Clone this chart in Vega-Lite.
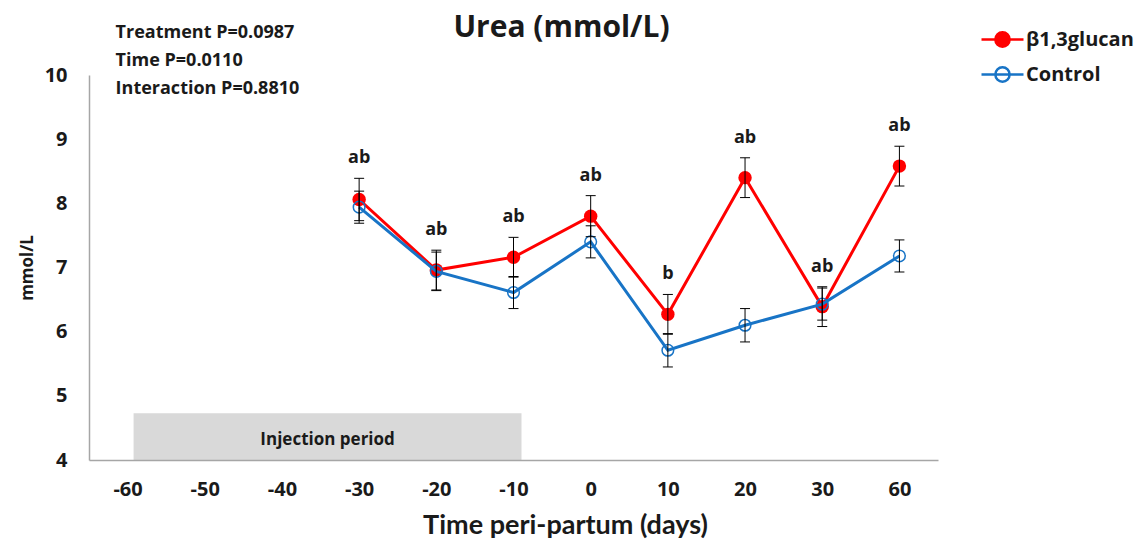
{
  "$schema": "https://vega.github.io/schema/vega-lite/v6.json",
  "width": 849,
  "height": 385,
  "autosize": {"type": "none"},
  "padding": {"left": 89, "top": 75, "right": 200, "bottom": 97},
  "background": "white",
  "config": {
    "view": {"stroke": null},
    "font": "Open Sans",
    "axis": {"grid": false, "ticks": false, "tickSize": 0, "domainColor": "#A6A6A6", "domainWidth": 1.5, "labelFont": "Open Sans", "labelFontWeight": "bold", "labelColor": "#1a1a1a", "titleFont": "Open Sans", "titleFontWeight": "bold", "titleColor": "#1a1a1a"}
  },
  "title": {"text": "Urea (mmol/L)", "anchor": "middle", "frame": "group", "dx": 48, "offset": -26, "font": "Open Sans", "fontSize": 30, "fontWeight": "bold", "color": "#1a1a1a"},
  "data": {"values": [
    {"day": -30, "group": "β1,3glucan", "mean": 8.06, "lo": 7.73, "hi": 8.39, "sig": "ab"},
    {"day": -20, "group": "β1,3glucan", "mean": 6.96, "lo": 6.65, "hi": 7.27, "sig": "ab"},
    {"day": -10, "group": "β1,3glucan", "mean": 7.16, "lo": 6.85, "hi": 7.47, "sig": "ab"},
    {"day": 0, "group": "β1,3glucan", "mean": 7.80, "lo": 7.48, "hi": 8.12, "sig": "ab"},
    {"day": 10, "group": "β1,3glucan", "mean": 6.27, "lo": 5.96, "hi": 6.58, "sig": "b"},
    {"day": 20, "group": "β1,3glucan", "mean": 8.40, "lo": 8.09, "hi": 8.71, "sig": "ab"},
    {"day": 30, "group": "β1,3glucan", "mean": 6.39, "lo": 6.08, "hi": 6.70, "sig": "ab"},
    {"day": 60, "group": "β1,3glucan", "mean": 8.58, "lo": 8.27, "hi": 8.89, "sig": "ab"},
    {"day": -30, "group": "Control", "mean": 7.94, "lo": 7.69, "hi": 8.19},
    {"day": -20, "group": "Control", "mean": 6.94, "lo": 6.64, "hi": 7.24},
    {"day": -10, "group": "Control", "mean": 6.61, "lo": 6.36, "hi": 6.86},
    {"day": 0, "group": "Control", "mean": 7.40, "lo": 7.15, "hi": 7.65},
    {"day": 10, "group": "Control", "mean": 5.71, "lo": 5.45, "hi": 5.97},
    {"day": 20, "group": "Control", "mean": 6.10, "lo": 5.84, "hi": 6.36},
    {"day": 30, "group": "Control", "mean": 6.43, "lo": 6.18, "hi": 6.68},
    {"day": 60, "group": "Control", "mean": 7.18, "lo": 6.93, "hi": 7.43}
  ]},
  "encoding": {
    "x": {"field": "day", "type": "ordinal", "sort": null,
      "scale": {"type": "point", "domain": [-60, -50, -40, -30, -20, -10, 0, 10, 20, 30, 60], "padding": 0.5},
      "axis": {"title": "Time peri-partum (days)", "labelAngle": 0, "labelFontSize": 20, "labelPadding": 19, "titleFont": "Lato", "titleFontSize": 27, "titlePadding": 13, "titleX": 476}},
    "y": {"field": "mean", "type": "quantitative",
      "scale": {"domain": [4, 10], "nice": false, "zero": false},
      "axis": {"title": "mmol/L", "values": [4, 5, 6, 7, 8, 9, 10], "labelFontSize": 20, "labelPadding": 22, "titleFontSize": 17, "titlePadding": 8}}
  },
  "layer": [
    {
      "data": {"values": [{"day": -60, "day_end": -10, "ylo": 4, "yhi": 4.73, "label": "Injection period"}]},
      "mark": {"type": "rect", "color": "#D9D9D9", "xOffset": 6, "x2Offset": 8},
      "encoding": {
        "x2": {"field": "day_end"},
        "y": {"field": "ylo", "type": "quantitative", "title": "mmol/L"},
        "y2": {"field": "yhi"}
      }
    },
    {
      "data": {"values": [{"day": -60, "day_end": -10, "ylo": 4, "yhi": 4.73, "label": "Injection period"}]},
      "mark": {"type": "text", "font": "Open Sans", "fontSize": 17, "fontWeight": "bold", "color": "#1a1a1a", "dx": 200, "dy": -20, "baseline": "middle"},
      "encoding": {
        "y": {"field": "ylo", "type": "quantitative", "title": "mmol/L"},
        "text": {"field": "label"}
      }
    },
    {
      "data": {"values": [{"day": -60, "ytop": 10, "note": "stats"}]},
      "mark": {"type": "text", "font": "Open Sans", "fontSize": 18, "fontWeight": "bold", "color": "#1a1a1a", "align": "left", "baseline": "top", "dx": -12, "dy": -51, "lineHeight": 28,
        "text": ["Treatment P=0.0987", "Time P=0.0110", "Interaction P=0.8810"]},
      "encoding": {"y": {"field": "ytop", "type": "quantitative", "title": "mmol/L"}}
    },
    {
      "transform": [{"filter": "datum.group === 'β1,3glucan'"}],
      "mark": {"type": "line", "strokeWidth": 3},
      "encoding": {
        "color": {"field": "group", "type": "nominal",
          "scale": {"domain": ["β1,3glucan", "Control"], "range": ["#FF0000", "#1874C6"]},
          "legend": {"orient": "none", "legendX": 891, "legendY": -58, "title": null, "padding": 0,
            "symbolType": "M-1,0L1,0M-0.34,0A0.34,0.34,0,1,1,0.34,0A0.34,0.34,0,1,1,-0.34,0Z",
            "symbolSize": 1764, "symbolStrokeWidth": 2.5, "rowPadding": 0, "labelOffset": 1,
            "labelFont": "Open Sans", "labelFontSize": 20, "labelFontWeight": "bold", "labelColor": "#1a1a1a",
            "encode": {"symbols": {"update": {
              "fill": [{"test": "datum.value === 'Control'", "value": "transparent"}, {"value": "#FF0000"}],
              "fillOpacity": {"value": 1},
              "stroke": [{"test": "datum.value === 'Control'", "value": "#1874C6"}, {"value": "#FF0000"}]
            }}}}
        }
      }
    },
    {
      "transform": [{"filter": "datum.group === 'β1,3glucan'"}],
      "mark": {"type": "circle", "color": "#FF0000", "size": 180, "opacity": 1}
    },
    {
      "transform": [{"filter": "datum.group === 'Control'"}],
      "mark": {"type": "line", "strokeWidth": 3},
      "encoding": {"color": {"field": "group", "type": "nominal"}}
    },
    {
      "transform": [{"filter": "datum.group === 'Control'"}],
      "mark": {"type": "point", "shape": "circle", "filled": false, "stroke": "#1874C6", "strokeWidth": 1.5, "size": 135, "opacity": 1}
    },
    {
      "mark": {"type": "rule", "color": "#000000", "strokeWidth": 1},
      "encoding": {"y": {"field": "lo", "type": "quantitative", "title": "mmol/L"}, "y2": {"field": "hi"}}
    },
    {
      "mark": {"type": "tick", "color": "#000000", "thickness": 1, "size": 10, "opacity": 1},
      "encoding": {"y": {"field": "lo", "type": "quantitative", "title": "mmol/L"}}
    },
    {
      "mark": {"type": "tick", "color": "#000000", "thickness": 1, "size": 10, "opacity": 1},
      "encoding": {"y": {"field": "hi", "type": "quantitative", "title": "mmol/L"}}
    },
    {
      "transform": [{"filter": "datum.sig != null"}],
      "mark": {"type": "text", "font": "Open Sans", "fontSize": 18, "fontWeight": "bold", "color": "#1a1a1a", "dy": -20, "baseline": "middle"},
      "encoding": {"y": {"field": "hi", "type": "quantitative", "title": "mmol/L"}, "text": {"field": "sig"}}
    }
  ]
}
